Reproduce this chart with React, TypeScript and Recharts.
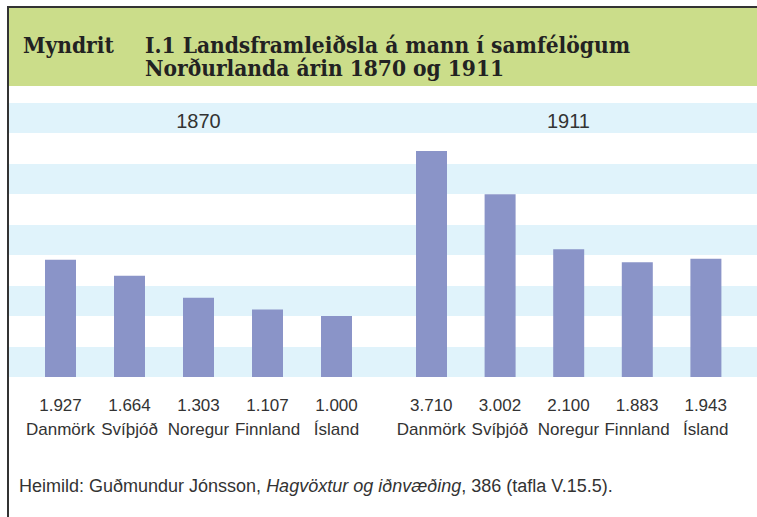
import { Bar, BarChart, CartesianGrid, XAxis, YAxis } from "recharts";

const countries = ["Danmörk", "Svíþjóð", "Noregur", "Finnland", "Ísland"];
const values1870 = [1927, 1664, 1303, 1107, 1000];
const values1911 = [3710, 3002, 2100, 1883, 1943];
const yTicks = [0, 500, 1000, 1500, 2000, 2500, 3000, 3500, 4000, 4500];
const titleLines = ["I.1 Landsframleiðsla á mann í samfélögum", "Norðurlanda árin 1870 og 1911"];

const BAR = "#8a94c8";
const STRIPE = "#e0f3fb";
const GREEN = "#cbdd8a";
const TEXT = "#333";
const SANS = "'Liberation Sans', Arial, sans-serif";

const fmt = (v: number) => `${Math.floor(v / 1000)}.${String(v % 1000).padStart(3, "0")}`;

function makeTick(values: number[]) {
  return (props: any) => {
    const { x, y, index, payload } = props;
    return (
      <text x={x} y={y} textAnchor="middle" fill={TEXT} fontSize={17} fontFamily={SANS}>
        <tspan x={x} dy={34}>{fmt(values[index])}</tspan>
        <tspan x={x} dy={24}>{payload.value}</tspan>
      </text>
    );
  };
}

interface YearChartProps {
  year: string;
  values: number[];
  left: number;
  width: number;
  padLeft: number;
  padRight: number;
}

function YearChart({ year, values, left, width, padLeft, padRight }: YearChartProps) {
  const data = countries.map((country, i) => ({ country, value: values[i] }));
  const centre = padLeft + (width - padLeft - padRight) / 2;
  return (
    <div style={{ position: "absolute", left, top: 103, width, height: 354 }}>
      <BarChart width={width} height={354} data={data} margin={{ top: 0, right: 0, bottom: 0, left: 0 }}>
        <CartesianGrid vertical={false} stroke="none" syncWithTicks horizontalFill={[STRIPE, "#ffffff"]} />
        <YAxis hide domain={[0, 4500]} ticks={yTicks} interval={0} />
        <XAxis
          dataKey="country"
          height={80}
          axisLine={false}
          tickLine={false}
          tickSize={0}
          tickMargin={0}
          interval={0}
          padding={{ left: padLeft, right: padRight }}
          tick={makeTick(values)}
        />
        <Bar dataKey="value" fill={BAR} barSize={31} isAnimationActive={false} />
      </BarChart>
      <div
        style={{
          position: "absolute",
          left: centre - 40,
          width: 80,
          top: 8,
          textAlign: "center",
          fontFamily: SANS,
          fontSize: 20,
          lineHeight: "20px",
          color: TEXT,
        }}
      >
        {year}
      </div>
    </div>
  );
}

export default function App() {
  const titleFont: React.CSSProperties = {
    fontFamily: "'DejaVu Serif', 'Liberation Serif', serif",
    fontStretch: "condensed",
    fontWeight: "bold",
    fontSize: 22.5,
    lineHeight: "22.5px",
    height: 22.5,
    color: "#222",
    position: "absolute",
    whiteSpace: "nowrap",
  };
  return (
    <div style={{ position: "absolute", left: 0, top: 0, width: 757, height: 517, background: "#fff", overflow: "hidden" }}>
      <div style={{ position: "absolute", left: 9, top: 8, width: 748, height: 78, background: GREEN }} />
      <div style={{ position: "absolute", left: 7, top: 6, width: 750, height: 2, background: "#333" }} />
      <div style={{ position: "absolute", left: 7, top: 6, width: 2, height: 511, background: "#333" }} />
      <div style={{ ...titleFont, left: 23, top: 34 }}>Myndrit</div>
      {titleLines.map((line, i) => (
        <div key={line} style={{ ...titleFont, left: 145, top: 34 + i * 22.5 }}>
          {line}
        </div>
      ))}
      <YearChart year="1870" values={values1870} left={9} width={375} padLeft={17} padRight={13} />
      <YearChart year="1911" values={values1911} left={384} width={373} padLeft={13} padRight={17} />
      <div
        style={{
          position: "absolute",
          left: 19,
          top: 477,
          fontFamily: SANS,
          fontSize: 18,
          lineHeight: "18px",
          color: TEXT,
          whiteSpace: "nowrap",
        }}
      >
        Heimild: Guðmundur Jónsson, <i>Hagvöxtur og iðnvæðing</i>, 386 (tafla V.15.5).
      </div>
    </div>
  );
}
